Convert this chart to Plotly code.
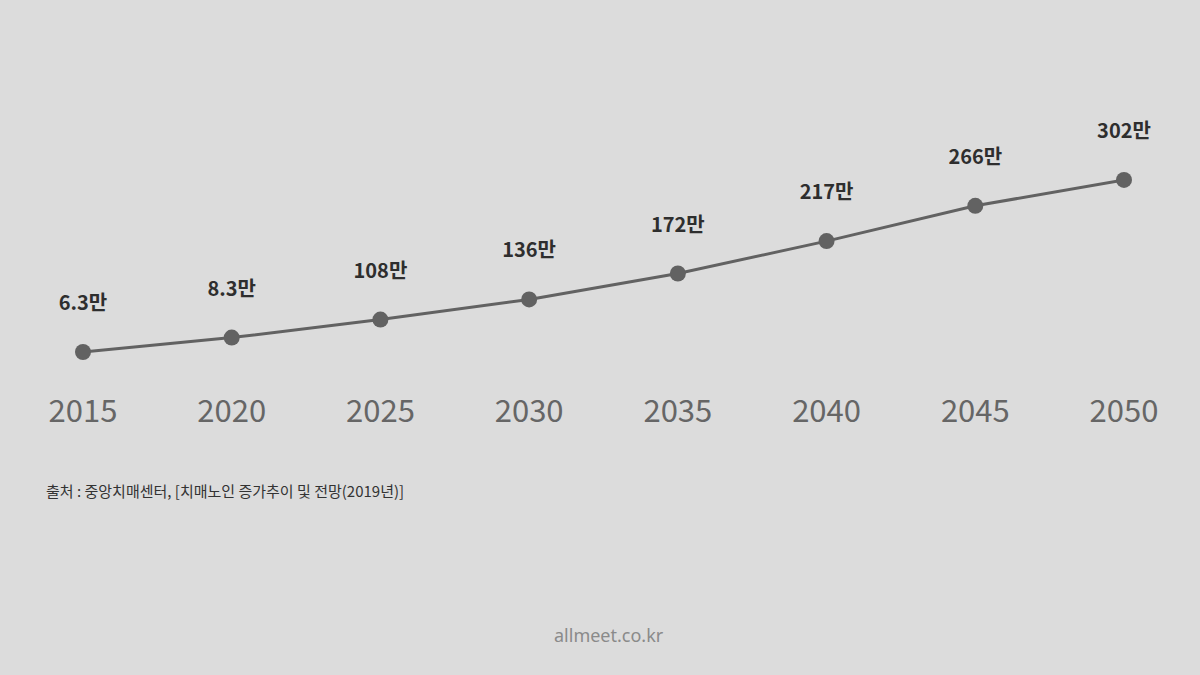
import plotly.graph_objects as go

years = ["2015", "2020", "2025", "2030", "2035", "2040", "2045", "2050"]
values = [63, 83, 108, 136, 172, 217, 266, 302]
labels = ["6.3만", "8.3만", "108만", "136만", "172만", "217만", "266만", "302만"]

fig = go.Figure()
fig.add_trace(go.Scatter(
    x=list(range(len(years))), y=values,
    mode="lines+markers+text",
    line=dict(color="#626262", width=3),
    marker=dict(color="#626262", size=16),
    text=labels, textposition="top center",
    texttemplate="<b>%{text}</b><br> ",
    textfont=dict(family="Noto Sans CJK KR", size=20, color="#2e2e2e"),
    cliponaxis=False,
))

fig.update_layout(
    width=1200, height=675,
    paper_bgcolor="#dcdcdc", plot_bgcolor="#dcdcdc",
    margin=dict(l=83, r=76, t=100, b=285),
    showlegend=False,
    xaxis=dict(range=[0, 7], tickvals=list(range(len(years))), ticktext=years,
               showgrid=False, zeroline=False, showline=False,
               tickfont=dict(family="Noto Sans CJK KR", size=31, color="#666")),
    yaxis=dict(range=[10.2, 413], visible=False),
    annotations=[
        dict(text="출처 : 중앙치매센터, [치매노인 증가추이 및 전망(2019년)]",
             xref="paper", yref="paper", x=-0.037, y=-0.345, xanchor="left", yanchor="middle",
             showarrow=False, font=dict(family="Noto Sans CJK KR", size=15, color="#333")),
        dict(text="allmeet.co.kr", xref="paper", yref="paper", x=0.505, y=-0.845,
             xanchor="center", yanchor="middle", showarrow=False,
             font=dict(family="Noto Sans", size=18, color="#8a8a8a")),
    ],
)

fig.write_html("out.html", config={"displayModeBar": False},
               post_script="document.body.style.margin='0';")
